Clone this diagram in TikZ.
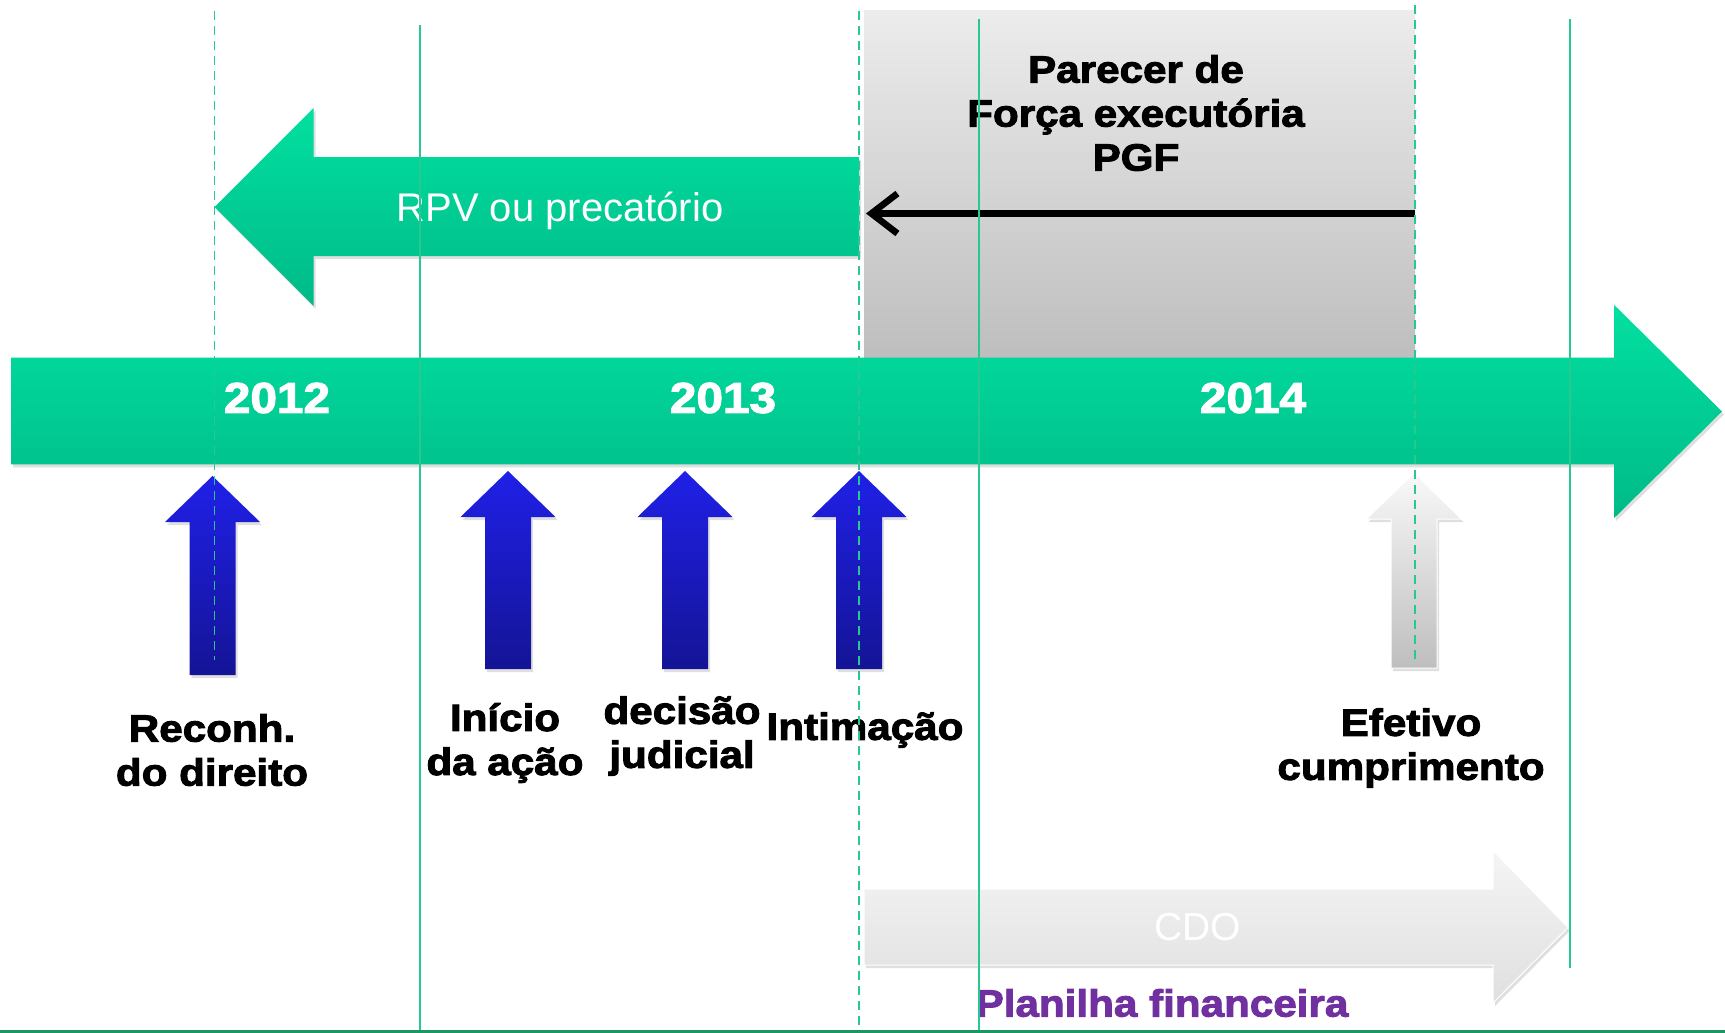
\documentclass[tikz,border=0pt]{standalone}
\usepackage{fontspec}
\setmainfont{Liberation Sans}
\newfontfamily\hv[FakeStretch=1.11,FakeBold=2.5]{Liberation Sans}
\usetikzlibrary{arrows.meta,shadows}
\definecolor{gtop}{RGB}{2,224,160}
\definecolor{gbot}{RGB}{0,186,136}
\definecolor{vline}{RGB}{40,200,145}
\definecolor{bline}{RGB}{30,150,100}
\definecolor{btop}{RGB}{32,32,232}
\definecolor{bbot}{RGB}{20,20,150}
\definecolor{purp}{RGB}{112,48,160}
\definecolor{boxtop}{RGB}{236,236,236}
\definecolor{boxbot}{RGB}{190,190,190}
\tikzset{
  shad/.style={drop shadow={opacity=0.25,shadow xshift=2pt,shadow yshift=-3pt}},
  greenshape/.style={top color=gtop,bottom color=gbot,shad},
  blueshape/.style={top color=btop,bottom color=bbot,shad},
  grayshape/.style={top color=gray!5,bottom color=boxbot,draw=white,line width=1pt,shad},
  cdoshape/.style={top color=gray!8,bottom color=gray!25,draw=white,line width=1pt,shad},
  guide/.style={draw=vline,line width=1.5pt},
  guidedash/.style={draw=vline,line width=1.5pt,dash pattern=on 9pt off 6pt},
  yeartxt/.style={text=white,font=\hv\bfseries\fontsize{43}{50}\selectfont},
  lbl/.style={text=black,align=center,font=\hv\bfseries\fontsize{38}{44}\selectfont},
}
\newcommand\uparr[4]{%
  \path[#4] (#1,#2) -- ({#1+47.5},{#2+46}) -- ({#1+23},{#2+46}) -- ({#1+23},#3)
    -- ({#1-23},#3) -- ({#1-23},{#2+46}) -- ({#1-47.5},{#2+46}) -- cycle;}
\begin{document}
\begin{tikzpicture}[x=1pt,y=-1pt]
\useasboundingbox[fill=white] (0,0) rectangle (1725,1033);
% gray box
\path[top color=boxtop,bottom color=boxbot] (864,11) rectangle (1415,357.6);
% timeline
\path[greenshape] (11,357.6) -- (1614,357.6) -- (1614,304.8) -- (1722,411.5)
  -- (1614,518.2) -- (1614,464.3) -- (11,464.3) -- cycle;
% RPV arrow
\path[greenshape] (859,157) -- (313.6,157) -- (313.6,108) -- (214.5,207)
  -- (313.6,306) -- (313.6,256) -- (859,256) -- cycle;
\node[text=white,font=\fontsize{40}{46}\selectfont] (rpv) at (560,211) {RPV ou precatório};
% black arrow
\coordinate (pgfR) at (1415,213.5);
\coordinate (pgfL) at (866,213.5);
\draw[line width=6.6pt,shad,-{Straight Barb[length=26pt,width=40pt]}] (pgfR) -- (pgfL);
% parecer text
\node[lbl] (parecer) at (1136,113) {Parecer de\\Força executória\\PGF};
% year labels
\node[yeartxt] (y2012) at (277,398) {2012};
\node[yeartxt] (y2013) at (723,398) {2013};
\node[yeartxt] (y2014) at (1253,398) {2014};
% up arrows
\uparr{212.5}{476}{675}{blueshape}
\uparr{508}{471}{669}{blueshape}
\uparr{685}{471}{669}{blueshape}
\uparr{859}{471}{669}{blueshape}
\uparr{1414}{473}{668}{grayshape}
% CDO arrow
\path[cdoshape] (864,889) -- (1493,889) -- (1493,850.5) -- (1568,927.5)
  -- (1493,1003) -- (1493,965) -- (864,965) -- cycle;
\node[text=white,font=\fontsize{39}{45}\selectfont] (cdo) at (1198,927.5) {CDO};
% labels
\node[lbl] (reconh) at (212,750) {Reconh.\\do direito};
\node[lbl] (inicio) at (505,743) {Início\\da ação};
\node[lbl] (decisao) at (682,736) {decisão\\judicial};
\node[lbl] (intim) at (865,730) {Intimação};
\node[lbl] (efetivo) at (1411,748) {Efetivo\\cumprimento};
\node[lbl,text=purp] (planilha) at (1162,1003) {Planilha financeira};
% guide lines
\draw[guidedash] (214.5,11) -- (214.5,660);
\draw[guide] (420,25) -- (420,1033);
\draw[guidedash] (859,11) -- (859,1033);
\draw[guide] (979,19) -- (979,1033);
\draw[guidedash] (1415,5) -- (1415,665);
\draw[guide] (1570,19) -- (1570,968);
\draw[draw=bline,line width=3pt] (0,1031) -- (1725,1031);
\end{tikzpicture}
\end{document}
